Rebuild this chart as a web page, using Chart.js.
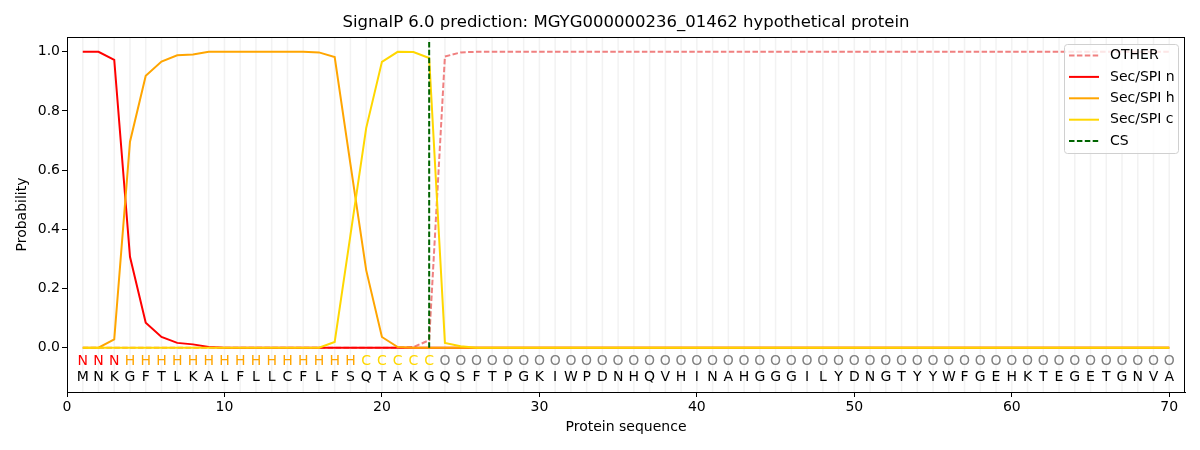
<!DOCTYPE html>
<html lang="en">
<head>
<meta charset="UTF-8" />
<title>SignalP 6.0 prediction</title>
<style>
  body { margin: 0; background: #ffffff; }
  .wrap { width: 1200px; height: 450px; }
</style>
<script src="https://cdn.jsdelivr.net/npm/chart.js"></script>
</head>
<body>
<div class="wrap"><canvas id="chart" width="1200" height="450"></canvas></div>
<script>
// residue positions along the protein
const positions = [
  1, 2, 3, 4, 5, 6, 7, 8, 9, 10,
  11, 12, 13, 14, 15, 16, 17, 18, 19, 20,
  21, 22, 23, 24, 25, 26, 27, 28, 29, 30,
  31, 32, 33, 34, 35, 36, 37, 38, 39, 40,
  41, 42, 43, 44, 45, 46, 47, 48, 49, 50,
  51, 52, 53, 54, 55, 56, 57, 58, 59, 60,
  61, 62, 63, 64, 65, 66, 67, 68, 69, 70
];
const sequence = "MNKGFTLKALFLLCFLFSQTAKGQSFTPGKIWPDNHQVHINAHGGGILYDNGTYYWFGEHKTEGETGNVA".split("");
const regions = "NNNHHHHHHHHHHHHHHHCCCCCOOOOOOOOOOOOOOOOOOOOOOOOOOOOOOOOOOOOOOOOOOOOOOO".split("");

// per-residue probabilities
const other = [
  0, 0, 0, 0, 0, 0, 0, 0, 0, 0,
  0, 0, 0, 0, 0, 0, 0, 0, 0, 0,
  0, 0.002, 0.025, 0.984, 0.998, 1, 1, 1, 1, 1,
  1, 1, 1, 1, 1, 1, 1, 1, 1, 1,
  1, 1, 1, 1, 1, 1, 1, 1, 1, 1,
  1, 1, 1, 1, 1, 1, 1, 1, 1, 1,
  1, 1, 1, 1, 1, 1, 1, 1, 1, 1
];
const secN = [
  1, 1, 0.973, 0.307, 0.084, 0.036, 0.016, 0.011, 0.002, 0,
  0, 0, 0, 0, 0, 0, 0, 0, 0, 0,
  0, 0, 0, 0, 0, 0, 0, 0, 0, 0,
  0, 0, 0, 0, 0, 0, 0, 0, 0, 0,
  0, 0, 0, 0, 0, 0, 0, 0, 0, 0,
  0, 0, 0, 0, 0, 0, 0, 0, 0, 0,
  0, 0, 0, 0, 0, 0, 0, 0, 0, 0
];
const secH = [
  0, 0, 0.028, 0.696, 0.919, 0.967, 0.988, 0.991, 1, 1,
  1, 1, 1, 1, 1, 0.998, 0.982, 0.62, 0.262, 0.036,
  0.002, 0, 0, 0, 0, 0, 0, 0, 0, 0,
  0, 0, 0, 0, 0, 0, 0, 0, 0, 0,
  0, 0, 0, 0, 0, 0, 0, 0, 0, 0,
  0, 0, 0, 0, 0, 0, 0, 0, 0, 0,
  0, 0, 0, 0, 0, 0, 0, 0, 0, 0
];
const secC = [
  0, 0, 0, 0, 0, 0, 0, 0, 0, 0,
  0, 0, 0, 0, 0, 0, 0.019, 0.38, 0.742, 0.966,
  1, 0.999, 0.979, 0.016, 0.005, 0, 0, 0, 0, 0,
  0, 0, 0, 0, 0, 0, 0, 0, 0, 0,
  0, 0, 0, 0, 0, 0, 0, 0, 0, 0,
  0, 0, 0, 0, 0, 0, 0, 0, 0, 0,
  0, 0, 0, 0, 0, 0, 0, 0, 0, 0
];
const csPos = 23;
const csTop = 1.035;

const xTicks = [0, 10, 20, 30, 40, 50, 60, 70];
const yTicks = [0, 0.2, 0.4, 0.6, 0.8, 1.0];

const FONT = "'DejaVu Sans', sans-serif";
const regionColors = { N: "#ff0000", H: "#ffa500", C: "#ffd700", O: "#808080" };

function pts(values) {
  return positions.map((p, i) => ({ x: p, y: values[i] }));
}

// residue grid, sequence letters, frame, titles and legend
const decorations = {
  id: "decorations",
  beforeDatasetsDraw(chart) {
    const { ctx, chartArea, scales } = chart;
    ctx.save();
    ctx.strokeStyle = "rgba(128,128,128,0.1)";
    ctx.lineWidth = 1.5;
    positions.forEach(p => {
      const x = scales.x.getPixelForValue(p);
      ctx.beginPath();
      ctx.moveTo(x, chartArea.top);
      ctx.lineTo(x, chartArea.bottom);
      ctx.stroke();
    });
    ctx.restore();
  },
  afterDatasetsDraw(chart) {
    const { ctx, chartArea, scales } = chart;
    ctx.save();
    ctx.font = "14px " + FONT;
    ctx.textAlign = "center";
    ctx.textBaseline = "middle";
    const yReg = scales.y.getPixelForValue(-0.045);
    const ySeq = scales.y.getPixelForValue(-0.1);
    positions.forEach((p, i) => {
      const x = scales.x.getPixelForValue(p);
      ctx.fillStyle = regionColors[regions[i]];
      ctx.fillText(regions[i], x, yReg);
      ctx.fillStyle = "#000";
      ctx.fillText(sequence[i], x, ySeq);
    });

    // frame
    ctx.strokeStyle = "#000";
    ctx.lineWidth = 1;
    ctx.strokeRect(chartArea.left + 0.5, chartArea.top + 0.5,
      chartArea.right - chartArea.left - 1, chartArea.bottom - chartArea.top);

    // titles
    ctx.fillStyle = "#000";
    ctx.font = "16.5px " + FONT;
    ctx.fillText("SignalP 6.0 prediction: MGYG000000236_01462 hypothetical protein",
      (chartArea.left + chartArea.right) / 2, 23);
    ctx.font = "14px " + FONT;
    ctx.fillText("Protein sequence", (chartArea.left + chartArea.right) / 2, 427);
    ctx.translate(22, (chartArea.top + chartArea.bottom) / 2);
    ctx.rotate(-Math.PI / 2);
    ctx.fillText("Probability", 0, 0);
    ctx.restore();

    // legend
    ctx.save();
    const bx = 1064, by = 44, bw = 114, bh = 109;
    ctx.fillStyle = "rgba(255,255,255,0.8)";
    ctx.strokeStyle = "#d0d0d0";
    ctx.lineWidth = 1;
    ctx.beginPath();
    ctx.roundRect(bx + 0.5, by + 0.5, bw, bh, 3);
    ctx.fill();
    ctx.stroke();
    ctx.font = "14px " + FONT;
    ctx.textAlign = "left";
    ctx.textBaseline = "middle";
    chart.data.datasets.forEach((ds, i) => {
      const y = 55.5 + i * 21.4;
      ctx.strokeStyle = ds.borderColor;
      ctx.lineWidth = ds.borderWidth;
      ctx.setLineDash(ds.borderDash || []);
      ctx.beginPath();
      ctx.moveTo(1069, y);
      ctx.lineTo(1099, y);
      ctx.stroke();
      ctx.setLineDash([]);
      ctx.fillStyle = "#000";
      ctx.fillText(ds.label, 1110, y);
    });
    ctx.restore();
  }
};

const tickFont = { family: FONT, size: 14 };

new Chart(document.getElementById("chart"), {
  type: "line",
  data: {
    datasets: [
      { label: "OTHER", data: pts(other), borderColor: "#f08080", borderWidth: 2, borderDash: [5.5, 2.4], order: 5 },
      { label: "Sec/SPI n", data: pts(secN), borderColor: "#ff0000", borderWidth: 2, order: 4 },
      { label: "Sec/SPI h", data: pts(secH), borderColor: "#ffa500", borderWidth: 2, order: 3 },
      { label: "Sec/SPI c", data: pts(secC), borderColor: "#ffd700", borderWidth: 2, order: 2 },
      { label: "CS", data: [{ x: csPos, y: 0 }, { x: csPos, y: csTop }], borderColor: "#006400", borderWidth: 2, borderDash: [5.5, 2.4], order: 1 }
    ]
  },
  options: {
    responsive: false,
    animation: false,
    devicePixelRatio: 1,
    elements: { point: { radius: 0 }, line: { tension: 0, fill: false } },
    layout: { padding: { top: 37, right: 15, left: 0, bottom: 0 } },
    plugins: { legend: { display: false }, tooltip: { enabled: false }, title: { display: false } },
    scales: {
      x: {
        type: "linear",
        min: 0,
        max: 71,
        afterBuildTicks: s => { s.ticks = xTicks.map(v => ({ value: v })); },
        afterFit: s => { s.height = 58; },
        grid: { drawOnChartArea: false, tickLength: 5, color: "#000" },
        border: { color: "#000" },
        ticks: { font: tickFont, color: "#000", padding: 2, maxRotation: 0 }
      },
      y: {
        type: "linear",
        min: -0.15,
        max: 1.05,
        afterBuildTicks: s => { s.ticks = yTicks.map(v => ({ value: v })); },
        afterFit: s => { s.width = 67; },
        grid: { drawOnChartArea: false, tickLength: 5, color: "#000" },
        border: { color: "#000" },
        ticks: { font: tickFont, color: "#000", padding: 2, callback: v => v.toFixed(1) }
      }
    }
  },
  plugins: [decorations]
});
</script>
</body>
</html>
